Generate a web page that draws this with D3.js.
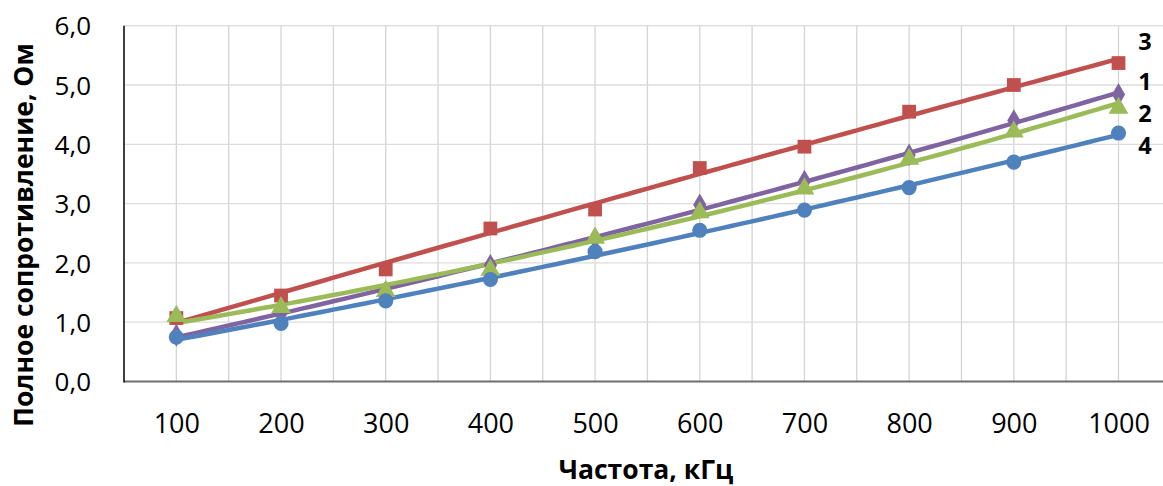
<!DOCTYPE html>
<html><head><meta charset="utf-8">
<script src="https://cdn.jsdelivr.net/npm/d3@7"></script>
<style>
html,body{margin:0;padding:0;background:#fff;}
svg{display:block;}
text{font-family:"Open Sans","Noto Sans",sans-serif;fill:#000;}
</style></head>
<body>
<svg id="chart" width="1163" height="486"></svg>
<script>
// ---- data ----
const categories = [100, 200, 300, 400, 500, 600, 700, 800, 900, 1000];
const yTicks = [0, 1, 2, 3, 4, 5, 6];
const series3 = [1.07, 1.45, 1.89, 2.58, 2.90, 3.60, 3.96, 4.55, 5.00, 5.37];
const series1 = [0.78, 1.15, 1.51, 1.96, 2.41, 2.98, 3.38, 3.82, 4.40, 4.84];
const series2 = [1.10, 1.25, 1.52, 1.88, 2.42, 2.85, 3.25, 3.75, 4.21, 4.61];
const series4 = [0.75, 0.98, 1.36, 1.72, 2.19, 2.55, 2.89, 3.27, 3.70, 4.19];
const seriesLabels = ["3", "1", "2", "4"];
const xTitle = "Частота, кГц";
const yTitle = "Полное сопротивление, Ом";

const series = [
  {label: seriesLabels[0], values: series3, color: "#C0504D", marker: "square"},
  {label: seriesLabels[1], values: series1, color: "#8064A2", marker: "diamond"},
  {label: seriesLabels[2], values: series2, color: "#9BBB59", marker: "triangle"},
  {label: seriesLabels[3], values: series4, color: "#4F81BD", marker: "circle"}
];

const svg = d3.select("#chart");
const pLeft = 124, pTop = 25.7, pBottom = 381.5, pRight = 1163;

const x = d3.scaleLinear().domain([50, 1000]).range([pLeft, 1118.5]);
const y = d3.scaleLinear().domain([0, 6]).range([pBottom, pTop]);

// gridlines
const grid = svg.append("g");
const vgrid = d3.range(100, 1001, 50);
grid.selectAll("line.v").data(vgrid).enter().append("line")
  .attr("x1", d => x(d)).attr("x2", d => x(d))
  .attr("y1", pTop).attr("y2", pBottom)
  .attr("stroke", "#d4d4d4").attr("stroke-width", 1.3);
grid.selectAll("line.h").data(yTicks.slice(1)).enter().append("line")
  .attr("x1", pLeft).attr("x2", pRight)
  .attr("y1", d => y(d)).attr("y2", d => y(d))
  .attr("stroke", "#dcdcdc").attr("stroke-width", 1.3);

// axes
const yAxis = d3.axisLeft(y).tickValues(yTicks).tickSize(0).tickPadding(33)
  .tickFormat(d => d3.format(".1f")(d).replace(".", ","));
const gy = svg.append("g").attr("transform", `translate(${pLeft},0)`).call(yAxis);
gy.select(".domain").remove();
gy.selectAll("text").style("font-size", "26px").attr("dy", "0.35em");

const xAxis = d3.axisBottom(x).tickValues(categories).tickSize(0).tickPadding(32)
  .tickFormat(d => String(d));
const gx = svg.append("g").attr("transform", `translate(0,${pBottom})`).call(xAxis);
gx.select(".domain").remove();
gx.selectAll("text").style("font-size", "27px");

svg.append("line").attr("x1", pLeft).attr("x2", pRight).attr("y1", pBottom).attr("y2", pBottom)
  .attr("stroke", "#6e6e6e").attr("stroke-width", 2);
svg.append("line").attr("x1", pLeft).attr("x2", pLeft).attr("y1", pTop).attr("y2", pBottom + 1)
  .attr("stroke", "#000").attr("stroke-width", 1.5);

// quadratic least squares fit for trend curves
function quadFit(xs, ys) {
  const n = xs.length;
  let s = Array(5).fill(0), t = Array(3).fill(0);
  for (let i = 0; i < n; i++) {
    const xi = xs[i] / 1000;
    for (let k = 0; k < 5; k++) s[k] += Math.pow(xi, k);
    for (let k = 0; k < 3; k++) t[k] += ys[i] * Math.pow(xi, k);
  }
  const A = [[s[0], s[1], s[2], t[0]], [s[1], s[2], s[3], t[1]], [s[2], s[3], s[4], t[2]]];
  for (let i = 0; i < 3; i++) {
    for (let j = i + 1; j < 3; j++) {
      const f = A[j][i] / A[i][i];
      for (let k = i; k < 4; k++) A[j][k] -= f * A[i][k];
    }
  }
  const c = [0, 0, 0];
  for (let i = 2; i >= 0; i--) {
    let v = A[i][3];
    for (let k = i + 1; k < 3; k++) v -= A[i][k] * c[k];
    c[i] = v / A[i][i];
  }
  return xv => { const u = xv / 1000; return c[0] + c[1] * u + c[2] * u * u; };
}

const line = d3.line().x(d => x(d[0])).y(d => y(d[1]));
const samples = d3.range(100, 1000.1, 10);
const lineG = svg.append("g");
series.forEach(s => {
  const f = quadFit(categories, s.values);
  lineG.append("path").datum(samples.map(v => [v, f(v)]))
    .attr("d", line).attr("fill", "none")
    .attr("stroke", s.color).attr("stroke-width", 4.5)
    .attr("stroke-linejoin", "round").attr("stroke-linecap", "round");
});

const symbolMap = {
  square: d3.symbol().type(d3.symbolSquare).size(190),
  diamond: d3.symbol().type(d3.symbolDiamond).size(150),
  triangle: d3.symbol().type(d3.symbolTriangle).size(170),
  circle: d3.symbol().type(d3.symbolCircle).size(180)
};
const markG = svg.append("g");
series.forEach(s => {
  markG.selectAll(null).data(s.values.map((v, i) => [categories[i], v])).enter()
    .append("path")
    .attr("d", symbolMap[s.marker]())
    .attr("transform", d => `translate(${x(d[0])},${y(d[1])})`)
    .attr("fill", s.color);
});

// series labels at right
const labelY = {"3": 42, "1": 82, "2": 114, "4": 146};
svg.selectAll("text.slab").data(series).enter().append("text")
  .attr("x", 1145).attr("y", d => labelY[d.label]).attr("dy", "0.35em")
  .attr("text-anchor", "middle").style("font-size", "23.5px").style("font-weight", "bold")
  .text(d => d.label);

// axis titles
svg.append("text").attr("x", 646).attr("y", 479)
  .attr("text-anchor", "middle").style("font-size", "26.5px").style("font-weight", "bold")
  .text(xTitle);
svg.append("text").attr("transform", "translate(24,235) rotate(-90)").attr("dy", "0.35em")
  .attr("text-anchor", "middle").style("font-size", "26.5px").style("font-weight", "bold")
  .text(yTitle);
</script>
</body></html>
